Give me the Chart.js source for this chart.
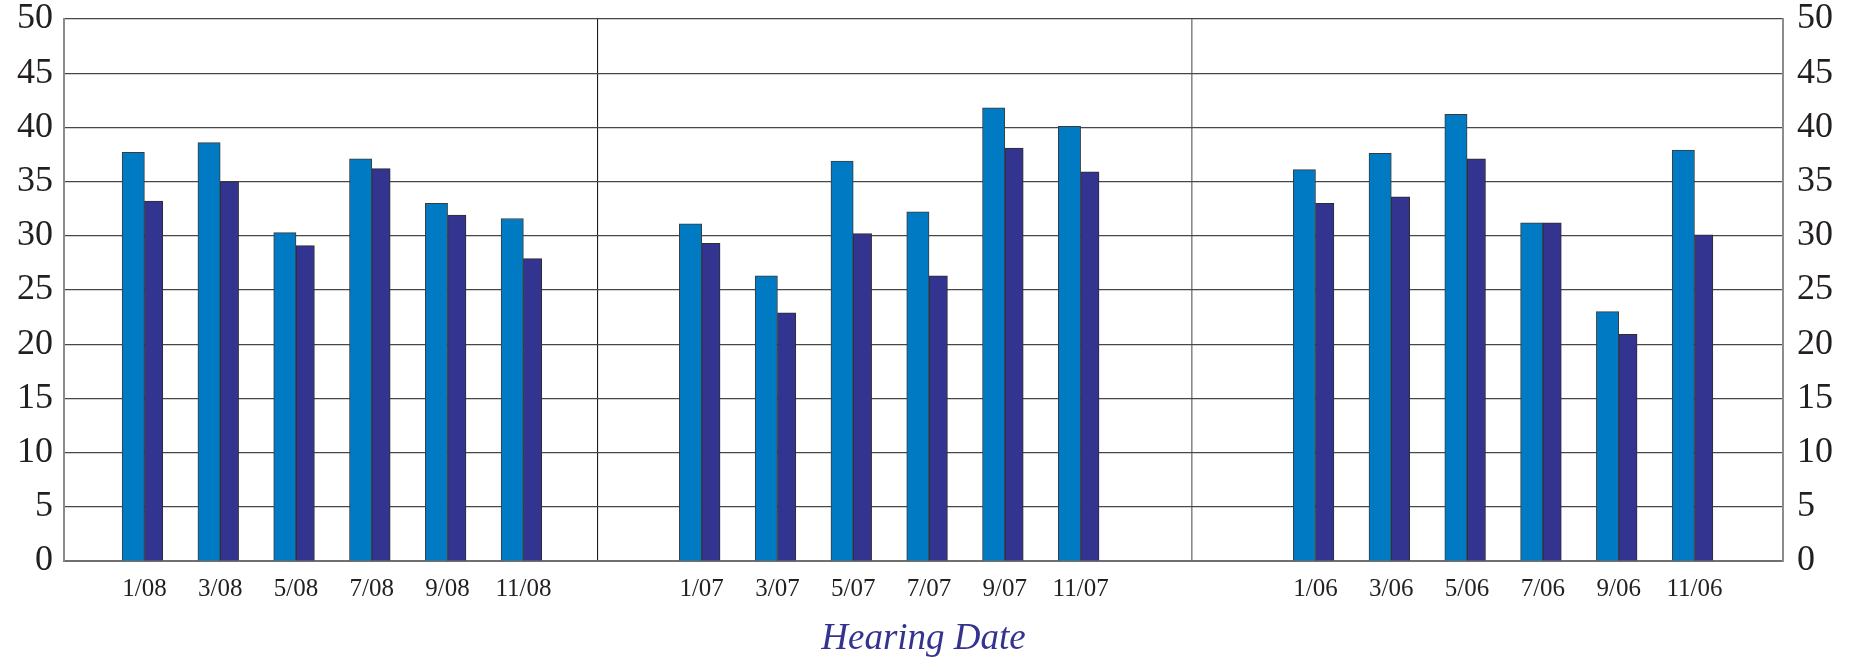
<!DOCTYPE html>
<html>
<head>
<meta charset="utf-8">
<script src="https://cdn.jsdelivr.net/npm/chart.js@4/dist/chart.umd.min.js"></script>
<style>
  html, body { margin: 0; padding: 0; background: #ffffff; }
  #wrap { width: 1862px; height: 661px; position: relative; }
</style>
</head>
<body>
<div id="wrap"><canvas id="chart" width="1862" height="661"></canvas></div>
<script>
// ---- data ----
const categories2008 = ['1/08', '3/08', '5/08', '7/08', '9/08', '11/08'];
const categories2007 = ['1/07', '3/07', '5/07', '7/07', '9/07', '11/07'];
const categories2006 = ['1/06', '3/06', '5/06', '7/06', '9/06', '11/06'];

const lightSeries2008 = [37.7, 38.6, 30.3, 37.1, 33.0, 31.6];
const darkSeries2008  = [33.2, 35.0, 29.1, 36.2, 31.9, 27.9];
const lightSeries2007 = [31.1, 26.3, 36.9, 32.2, 41.8, 40.1];
const darkSeries2007  = [29.3, 22.9, 30.2, 26.3, 38.1, 35.9];
const lightSeries2006 = [36.1, 37.6, 41.2, 31.2, 23.0, 37.9];
const darkSeries2006  = [33.0, 33.6, 37.1, 31.2, 20.9, 30.1];

const yTickValues = [0, 5, 10, 15, 20, 25, 30, 35, 40, 45, 50];
const axisTitle = 'Hearing Date';

// ---- layout / style settings (not data) ----
const FONT = "'Liberation Serif', 'DejaVu Serif', serif";
const LIGHT = '#007ac2';
const DARK = '#333390';
const UNIT_PX = 75.8;                       // pixel width of one category step
const SPAN = 22.68;                         // category units across the plot
const PANEL_START = [1.061, 8.413, 16.512]; // first category of each panel, in units from plot left
const DIVIDERS = [7.036, 14.881];           // panel separators, in units from plot left
const LIGHT_W = 22.3, DARK_W = 18.4;        // bar thickness (px)
// light bar sits just left of the category centre, dark bar just right
const SERIES_SHIFT = { light: -LIGHT_W / 2 / UNIT_PX, dark: DARK_W / 2 / UNIT_PX };

const panels = [
  { cats: categories2008, a: lightSeries2008, b: darkSeries2008 },
  { cats: categories2007, a: lightSeries2007, b: darkSeries2007 },
  { cats: categories2006, a: lightSeries2006, b: darkSeries2006 }
];

const datasets = [];
const scales = {};

function hiddenX(pi, shift) {
  const start = PANEL_START[pi] + shift;
  return {
    type: 'linear', axis: 'x', position: 'bottom', display: false,
    bounds: 'data', offset: false,
    min: -start, max: SPAN - start,
    grid: { display: false, offset: false }
  };
}

panels.forEach((p, pi) => {
  scales['xl' + pi] = hiddenX(pi, SERIES_SHIFT.light);
  scales['xd' + pi] = hiddenX(pi, SERIES_SHIFT.dark);
  datasets.push({
    label: 'A' + pi, grouped: false,
    data: p.cats.map((c, i) => ({ x: i, y: p.a[i] })),
    xAxisID: 'xl' + pi, yAxisID: 'y',
    backgroundColor: LIGHT, borderColor: '#3b3b3b', borderWidth: 1,
    barThickness: LIGHT_W, maxBarThickness: LIGHT_W
  });
  datasets.push({
    label: 'B' + pi, grouped: false,
    data: p.cats.map((c, i) => ({ x: i, y: p.b[i] })),
    xAxisID: 'xd' + pi, yAxisID: 'y',
    backgroundColor: DARK, borderColor: '#2e2e2e', borderWidth: 1,
    barThickness: DARK_W, maxBarThickness: DARK_W
  });
});

const yTickOpts = () => ({
  stepSize: 5, padding: 0, color: '#231f20',
  font: { family: FONT, size: 36, lineHeight: 1 }
});

scales.x = {
  type: 'linear', axis: 'x', position: 'bottom', weight: -10,
  bounds: 'data', offset: false,
  min: -PANEL_START[0], max: SPAN - PANEL_START[0],
  afterBuildTicks: (scale) => {
    const t = [];
    panels.forEach((p, pi) => p.cats.forEach((lab, i) => {
      t.push({ value: i + PANEL_START[pi] - PANEL_START[0], text: lab });
    }));
    DIVIDERS.forEach((d, k) => t.push({ value: d - PANEL_START[0], text: '', divider: k + 1 }));
    t.sort((a, b) => a.value - b.value);
    scale.ticks = t;
  },
  afterFit: (scale) => { scale.height = 100; },
  grid: {
    offset: false, drawTicks: false,
    color: (ctx) => {
      const d = ctx.tick && ctx.tick.divider;
      return d === 1 ? '#1e1e1e' : d === 2 ? '#8a8a8a' : 'rgba(0,0,0,0)';
    },
    lineWidth: (ctx) => (ctx.tick && ctx.tick.divider === 2 ? 1.6 : 1.1)
  },
  border: { display: true, color: '#6f6f6f', width: 2 },
  ticks: {
    autoSkip: false, maxRotation: 0, minRotation: 0, padding: 16,
    color: '#231f20',
    font: { family: FONT, size: 25, lineHeight: 1 },
    callback: (v, i, ticks) => (ticks[i] && ticks[i].text) || ''
  },
  title: {
    display: true, text: axisTitle, color: '#34338f',
    font: { family: FONT, size: 37, style: 'italic', lineHeight: 1 },
    padding: { top: 0, bottom: 3 }
  }
};
scales.y = {
  type: 'linear', position: 'left', min: 0, max: 50, stacked: false,
  afterBuildTicks: (scale) => { scale.ticks = yTickValues.map(v => ({ value: v })); },
  afterFit: (scale) => { scale.width = 64; },
  grid: { color: '#474747', lineWidth: 1.2, drawTicks: true, tickLength: 11, tickColor: 'rgba(0,0,0,0)' },
  border: { display: true, color: '#8c8c8c', width: 2 },
  ticks: yTickOpts()
};
scales.y2 = {
  type: 'linear', position: 'right', min: 0, max: 50, stacked: false,
  afterBuildTicks: (scale) => { scale.ticks = yTickValues.map(v => ({ value: v })); },
  afterFit: (scale) => { scale.width = 79; },
  grid: { display: false, drawTicks: true, tickLength: 14, tickColor: 'rgba(0,0,0,0)' },
  border: { display: true, color: '#8c8c8c', width: 2 },
  ticks: yTickOpts()
};

new Chart(document.getElementById('chart'), {
  type: 'bar',
  data: { datasets },
  options: {
    responsive: false,
    animation: false,
    layout: { padding: { top: 19, left: 0, right: 0, bottom: 0 } },
    plugins: { legend: { display: false }, tooltip: { enabled: false }, title: { display: false } },
    scales
  }
});
</script>
</body>
</html>
